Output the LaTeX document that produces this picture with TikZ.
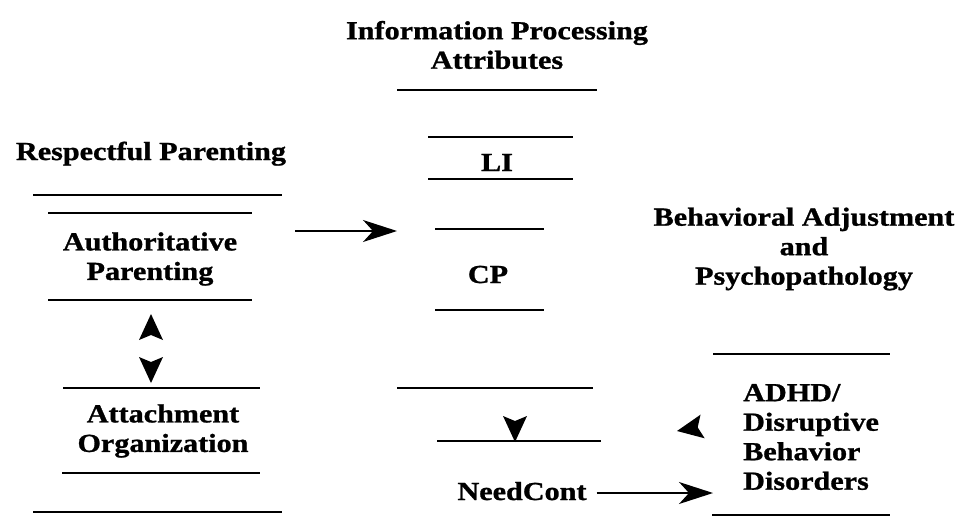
\documentclass[tikz,border=0pt]{standalone}
\usepackage{fontspec}
\setmainfont{Liberation Serif}[FakeStretch=1.16, BoldFeatures={FakeBold=1}]
\usetikzlibrary{arrows.meta}

\tikzset{
	divider/.style={line width=1.2pt},
	txt/.style={font=\fontsize{26}{29.5}\selectfont\bfseries, inner sep=0pt, align=center},
	arrow/.style={line width=1.3pt, -{Stealth[length=34pt,width=22pt,inset=10pt]}},
	pics/stealthhead/.style={code={\fill (0,0) -- (-26,12) -- (-21,0) -- (-26,-12) -- cycle;}}
}

\begin{document}
\begin{tikzpicture}[x=1pt,y=-1pt]
	\path[fill=white] (0,0) rectangle (964,523);

	% Respectful Parenting
	\node[txt, anchor=base] (resp) at (151,160) {Respectful Parenting};
	\draw[divider] (33,195) -- (282,195);
	\draw[divider] (48,213) -- (252,213);
	\node[txt] (authpar) at (150,259) {Authoritative\\Parenting};
	\draw[divider] (48,300) -- (252,300);
	\pic[rotate=90] at (151,314) {stealthhead};
	\pic[rotate=-90] at (151,383) {stealthhead};
	\draw[divider] (63,388) -- (260,388);
	\node[txt] (attach) at (163,431) {Attachment\\Organization};
	\draw[divider] (62,473) -- (260,473);
	\draw[divider] (33,512) -- (282,512);

	% Information Processing Attributes
	\node[txt] (info) at (497,45) {Information Processing\\Attributes};
	\draw[divider] (397,90) -- (597,90);
	\draw[divider] (428,137) -- (573,137);
	\node[txt, anchor=base] (li) at (497,171) {LI};
	\draw[divider] (428,179) -- (573,179);
	\draw[divider] (435,229) -- (544,229);
	\node[txt, anchor=base] (cp) at (488,283) {CP};
	\draw[divider] (435,310) -- (544,310);
	\draw[divider] (397,388) -- (593,388);
	\pic[rotate=-90] at (515,442) {stealthhead};
	\draw[divider] (437,441) -- (601,441);
	\node[txt, anchor=base] (need) at (522,500) {NeedCont};

	% Behavioral Adjustment and Psychopathology
	\node[txt] (behav) at (804,249) {Behavioral Adjustment\\and\\Psychopathology};
	\draw[divider] (713,354) -- (890,354);
	\node[txt, align=left, anchor=west] (adhd) at (743,437) {ADHD/\\Disruptive\\Behavior\\Disorders};
	\draw[divider] (712,515) -- (890,515);
	\pic[rotate=190] at (677,431) {stealthhead};

	% Arrows
	\coordinate (ap-out) at (295,231);
	\coordinate (cp-in) at (397,231);
	\draw[arrow] (ap-out) -- (cp-in);
	\coordinate (adhd-in) at (713,493);
	\draw[arrow] ([xshift=10pt]need.east |- adhd-in) -- (adhd-in);

\end{tikzpicture}
\end{document}
